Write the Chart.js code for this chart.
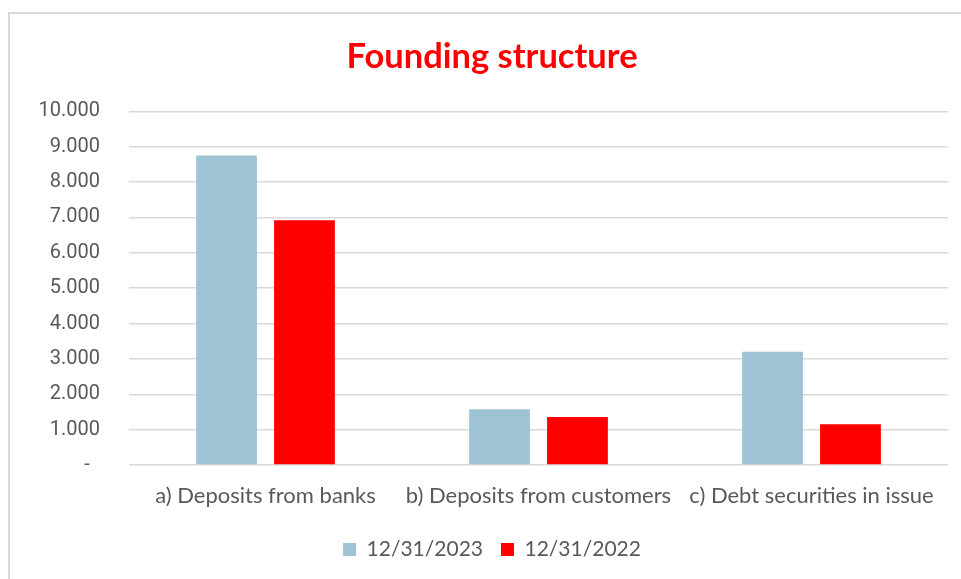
<!DOCTYPE html>
<html>
<head>
<meta charset="utf-8">
<script src="https://cdn.jsdelivr.net/npm/chart.js@4.4.1/dist/chart.umd.min.js"></script>
<style>
    html, body { margin: 0; padding: 0; background: #ffffff; overflow: hidden; }
    #frame {
        position: absolute; left: 8px; top: 12px;
        width: 1000px; height: 600px;
        border-left: 2px solid #d9d9d9; border-top: 2px solid #d9d9d9;
    }
    #wrap { position: absolute; left: 0; top: 0; width: 961px; height: 579px; }
</style>
</head>
<body>
<div id="frame"></div>
<div id="wrap"><canvas id="fundingChart" width="961" height="579"></canvas></div>
<script>
const categories = ['a) Deposits from banks', 'b) Deposits from customers', 'c) Debt securities in issue'];
const seriesLabels = ['12/31/2023', '12/31/2022'];
const values2023 = [8750, 1580, 3200];
const values2022 = [6920, 1360, 1150];
const yTicks = [0, 1000, 2000, 3000, 4000, 5000, 6000, 7000, 8000, 9000, 10000];

const textGrey = '#595959';
const gridGrey = '#d9d9d9';

// accounting style: dot as thousands separator, dash for zero
function formatTick(value) {
    if (value === 0) return '-\u2002';
    return value.toString().replace(/\B(?=(\d{3})+(?!\d))/g, '.');
}

const ctx = document.getElementById('fundingChart').getContext('2d');

new Chart(ctx, {
    type: 'bar',
    data: {
        labels: categories,
        datasets: [
            {
                label: seriesLabels[0],
                data: values2023,
                backgroundColor: '#9dc3d4',
                borderWidth: 0,
                categoryPercentage: 0.571,
                barPercentage: 0.78
            },
            {
                label: seriesLabels[1],
                data: values2022,
                backgroundColor: '#ff0000',
                borderWidth: 0,
                categoryPercentage: 0.571,
                barPercentage: 0.78
            }
        ]
    },
    options: {
        responsive: false,
        animation: false,
        layout: {
            padding: { left: 36, right: 13, top: 0, bottom: 9 }
        },
        plugins: {
            title: {
                display: true,
                text: 'Founding structure',
                color: '#ff0000',
                font: { family: 'Lato', size: 34.5, weight: 'bold' },
                padding: { top: 36, bottom: 34 }
            },
            legend: {
                position: 'bottom',
                labels: {
                    color: textGrey,
                    font: { family: 'Lato', size: 21 },
                    boxWidth: 13,
                    boxHeight: 13,
                    padding: 18
                }
            },
            tooltip: { enabled: false }
        },
        scales: {
            x: {
                grid: { display: false },
                border: { display: false },
                ticks: {
                    color: textGrey,
                    font: { family: 'Lato', size: 22 },
                    padding: 10,
                    maxRotation: 0,
                    autoSkip: false
                },
                // fixed axis band between the plot and the legend
                afterFit: scale => {
                    scale.height = 56;
                }
            },
            y: {
                min: 0,
                max: 10000,
                afterBuildTicks: scale => {
                    scale.ticks = yTicks.map(v => ({ value: v }));
                },
                grid: { color: gridGrey, lineWidth: 1.5, drawTicks: false },
                border: { display: false },
                ticks: {
                    color: textGrey,
                    font: { family: 'Roboto', size: 20 },
                    padding: 29,
                    callback: value => formatTick(value)
                },
                afterFit: scale => {
                    scale.width = 93;
                }
            }
        }
    }
});
</script>
</body>
</html>
